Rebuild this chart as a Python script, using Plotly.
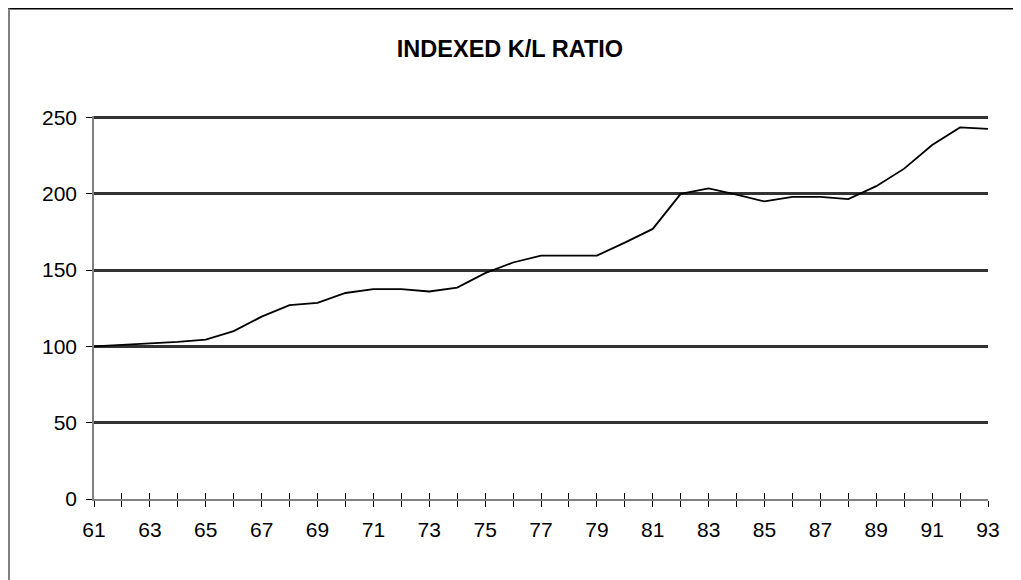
import plotly.graph_objects as go

years = list(range(61, 94))
kl_ratio = [100, 101, 102, 103, 104.5, 110, 119.5, 127, 128.5, 135, 137.5, 137.5, 136, 138.5,
            148, 155, 159.5, 159.5, 159.5, 168, 177, 200, 203.5, 199.5, 195, 198, 198, 196.5,
            205, 216.5, 232, 243.5, 242.5]
y_ticks = [0, 50, 100, 150, 200, 250]
x_ticktext = [str(y) if y % 2 == 1 else "" for y in years]

# page has an 8px body margin; figure coords = page coords - 8
OFF = 8
W, H = 1021 - OFF, 580 - OFF
L = 94 - OFF
R = W - (988 - OFF)
B = H - (499 - OFF)
unit = 381 / 250.0
T = (118 - OFF) - unit * 1.0
pw, ph = W - L - R, H - T - B

def px(x):
    return (x - OFF - L) / pw

def py(y):
    return (H - B - (y - OFF)) / ph

font = "Liberation Sans, Arial, sans-serif"

fig = go.Figure()
fig.add_trace(go.Scatter(x=years, y=kl_ratio, mode="lines",
                         line=dict(color="black", width=1.8), showlegend=False,
                         hoverinfo="x+y"))
# invisible trace to render the inside-tick overlay axis
fig.add_trace(go.Scatter(x=years, y=kl_ratio, mode="lines", xaxis="x2",
                         line=dict(width=0), opacity=0, showlegend=False, hoverinfo="skip"))

fig.update_layout(
    width=W, height=H,
    margin=dict(l=L, r=R, t=T, b=B, pad=0),
    paper_bgcolor="white", plot_bgcolor="white",
    font=dict(family=font, size=21, color="black"),
    title=dict(text="<b>INDEXED K/L RATIO</b>", x=(510 - OFF) / W, xanchor="center",
               y=1 - (49 - OFF) / H, yanchor="middle", font=dict(size=23.5, family=font)),
    xaxis=dict(range=[61, 93], tickvals=years, ticktext=x_ticktext, ticks="outside",
               ticklen=6, tickcolor="black", tickwidth=1, showgrid=False, zeroline=False,
               showline=True, linecolor="#808080", linewidth=2, ticklabelstandoff=5,
               fixedrange=True),
    xaxis2=dict(range=[61, 93], overlaying="x", tickvals=years, ticks="inside", ticklen=6,
                tickcolor="black", tickwidth=1, showticklabels=False, showgrid=False,
                zeroline=False, showline=False, anchor="y"),
    yaxis=dict(range=[0, 251], tickvals=y_ticks, ticks="outside", ticklen=6,
               tickcolor="black", tickwidth=1, showgrid=True, gridcolor="#333333",
               gridwidth=3, zeroline=False, showline=True, linecolor="#808080",
               linewidth=1.5, ticklabelstandoff=5, fixedrange=True),
    shapes=[
        dict(type="line", xref="paper", yref="paper", x0=px(8), x1=px(1021), y0=py(9), y1=py(9),
             line=dict(color="black", width=2)),
        dict(type="line", xref="paper", yref="paper", x0=px(9), x1=px(9), y0=py(9), y1=py(580),
             line=dict(color="#808080", width=2)),
    ],
)

fig.write_html("out.html")
